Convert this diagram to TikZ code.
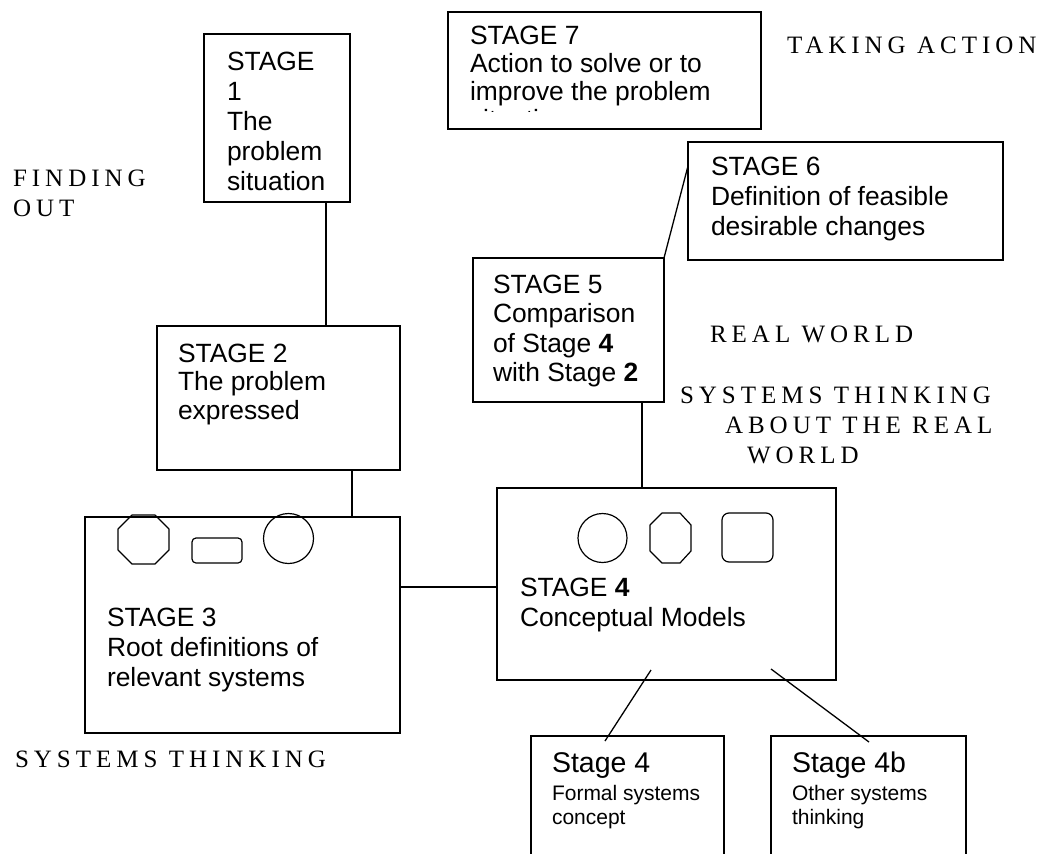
\documentclass[tikz,border=0pt]{standalone}
\usepackage{fontspec}
\newfontfamily\boxfont{Liberation Sans}
\newfontfamily\labelfont[LetterSpace=20]{Liberation Serif}
\newcommand\stagelines[1]{\begin{tabular}[t]{@{}l@{}}#1\end{tabular}}

\begin{document}
\begin{tikzpicture}[x=1pt,y=-1pt,
  stagebox/.style={draw, line width=1.7pt, anchor=north west, inner sep=0pt, outer sep=0pt},
  boxtext/.style={anchor=base west, inner sep=0pt, outer sep=0pt,
    font=\boxfont\fontsize{26.4}{29.5}\selectfont},
  headtext/.style={anchor=base west, inner sep=0pt, outer sep=0pt,
    font=\boxfont\fontsize{28.5}{30}\selectfont},
  smalltext/.style={anchor=base west, inner sep=0pt, outer sep=0pt,
    font=\boxfont\fontsize{21}{24.5}\selectfont},
  phase/.style={anchor=base west, inner sep=0pt, outer sep=0pt,
    font=\labelfont\fontsize{25}{30.5}\selectfont},
  link/.style={line width=1.3pt},
  icon/.style={line width=1.2pt, line join=round}]

\useasboundingbox (0,0) rectangle (1047,854);
\fill[white] (0,0) rectangle (1047,854);
\clip (0,0) rectangle (1047,854);

% ---------- stage boxes ----------
\node[stagebox, minimum width=313pt, minimum height=117pt] (s7) at (448,12) {};
\node[stagebox, minimum width=146pt, minimum height=168pt] (s1) at (204,34) {};
\node[stagebox, minimum width=315pt, minimum height=118pt] (s6) at (688,142) {};
\node[stagebox, minimum width=191pt, minimum height=144pt] (s5) at (473,258) {};
\node[stagebox, minimum width=243pt, minimum height=144pt] (s2) at (157,326) {};
\node[stagebox, minimum width=315pt, minimum height=216pt] (s3) at (85,517) {};
\node[stagebox, minimum width=339pt, minimum height=192pt] (s4) at (497,488) {};
\node[stagebox, minimum width=193pt, minimum height=150pt] (s4a) at (531,736) {};
\node[stagebox, minimum width=195pt, minimum height=150pt] (s4b) at (771,736) {};

% ---------- box texts ----------
\node[boxtext, font=\boxfont\fontsize{26.4}{28}\selectfont] (t7) at (470,44)
  {\stagelines{STAGE 7\\Action to solve or to\\improve the problem}};
% last line of stage 7 cut off by its frame
\begin{scope}
  \clip (450,100) rectangle (759,111.5);
  \node[boxtext] (t7cut) at (470,128) {situation};
\end{scope}
\node[boxtext, font=\boxfont\fontsize{26.4}{30}\selectfont] (t1) at (227,70)
  {\stagelines{STAGE\\1\\The\\problem\\situation}};
\node[boxtext, font=\boxfont\fontsize{26.4}{30}\selectfont] (t6) at (711,175)
  {\stagelines{STAGE 6\\Definition of feasible\\desirable changes}};
\node[boxtext] (t5) at (493,293)
  {\stagelines{STAGE 5\\Comparison\\of Stage \textbf{4}\\with Stage \textbf{2}}};
\node[boxtext, font=\boxfont\fontsize{26.4}{28.5}\selectfont] (t2) at (178,362)
  {\stagelines{STAGE 2\\The problem\\expressed}};
\node[boxtext, font=\boxfont\fontsize{26.4}{30}\selectfont] (t3) at (107,626)
  {\stagelines{STAGE 3\\Root definitions of\\relevant systems}};
\node[boxtext, font=\boxfont\fontsize{26.4}{30}\selectfont] (t4) at (520,596)
  {\stagelines{STAGE \textbf{4}\\Conceptual Models}};
\node[headtext] (h4a) at (552,772) {Stage 4};
\node[smalltext] (b4a) at (552,800) {\stagelines{Formal systems\\concept}};
\node[headtext] (h4b) at (792,772) {Stage 4b};
\node[smalltext] (b4b) at (792,800) {\stagelines{Other systems\\thinking}};

% ---------- icons inside stage 3 ----------
\draw[icon] (132,515) -- (155,515) -- (169,529) -- (169,550) -- (155,564)
  -- (132,564) -- (118,550) -- (118,529) -- cycle;
\draw[icon, rounded corners=4pt] (192,538) rectangle (242,563);
\draw[icon] (288.5,538.5) circle[radius=25pt];

% ---------- icons inside stage 4 ----------
\draw[icon] (602.5,538) circle[radius=24.5pt];
\draw[icon] (662,513) -- (680,513) -- (691,525) -- (691,551) -- (680,563)
  -- (662,563) -- (650,551) -- (650,525) -- cycle;
\draw[icon, rounded corners=7pt] (722,513) rectangle (773,562);

% ---------- connectors ----------
\coordinate (x12) at (326,0);
\coordinate (x23) at (352,0);
\coordinate (y34) at (0,587);
\coordinate (x54) at (642,0);
\coordinate (e6) at (688,166);
\coordinate (a4) at (651,670);
\coordinate (e4a) at (605,741);
\coordinate (b4) at (771,669);
\coordinate (e4b) at (869,742);

\draw[link] (x12 |- s1.south) -- (x12 |- s2.north);
\draw[link] (x23 |- s2.south) -- (x23 |- s3.north);
\draw[link] (y34 -| s3.east) -- (y34 -| s4.west);
\draw[link] (x54 |- s5.south) -- (x54 |- s4.north);
\draw[link] (s5.north east) -- (e6);
\draw[link] (a4) -- (e4a);
\draw[link] (b4) -- (e4b);

% ---------- phase labels ----------
\node[phase] (lact) at (787,53) {TAKING ACTION};
\node[phase] (lfind) at (13,186) {\stagelines{FINDING\\OUT}};
\node[phase] (lreal) at (710,342) {REAL WORLD};
\node[phase, font=\labelfont\fontsize{25}{30}\selectfont] (lsysreal) at (680,403)
  {\stagelines{SYSTEMS THINKING\\\hspace*{45pt}ABOUT THE REAL\\\hspace*{67pt}WORLD}};
\node[phase] (lsys) at (15,767) {SYSTEMS THINKING};

\end{tikzpicture}
\end{document}
